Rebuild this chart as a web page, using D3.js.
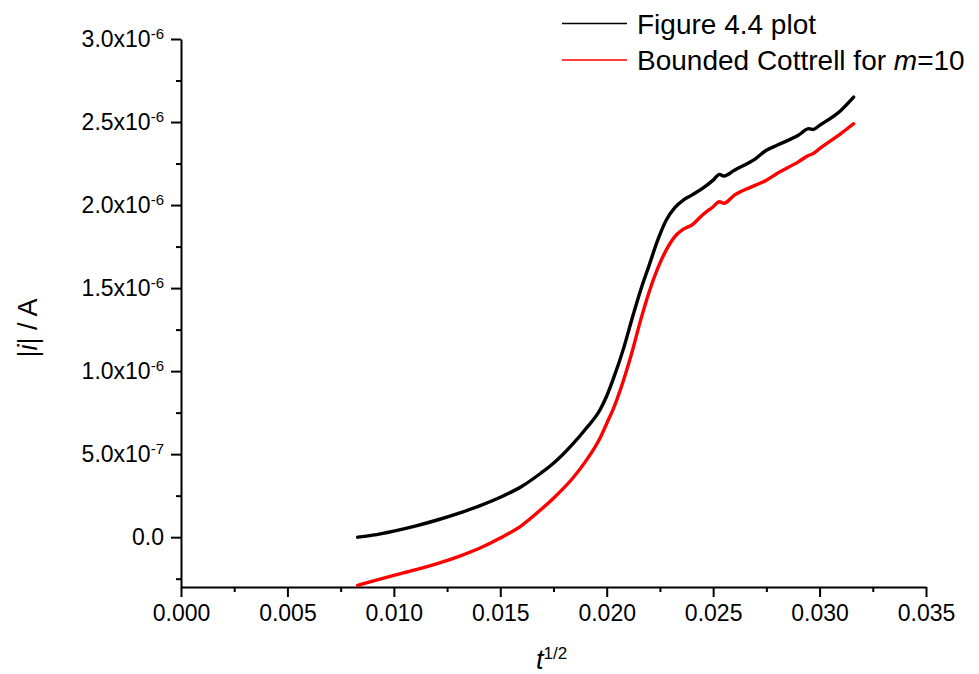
<!DOCTYPE html>
<html>
<head>
<meta charset="utf-8">
<script src="https://cdn.jsdelivr.net/npm/d3@7"></script>
<style>
  body { margin: 0; background: #fff; }
  svg { font-family: Arial, "Liberation Sans", sans-serif; }
  .axis path, .axis line { stroke: #000; stroke-width: 2px; }
  .axis text { fill: #000; font-size: 23px; }
</style>
</head>
<body>
<svg width="979" height="674"></svg>
<script>
// data (t^1/2 and |i| in 1e-6 A)
var tSqrt      = [0.0083, 0.0090, 0.0100, 0.0110, 0.0120, 0.0130, 0.0140, 0.0150, 0.0160, 0.0169, 0.0175, 0.0184, 0.0190, 0.0197, 0.0200, 0.0203, 0.0208, 0.0212, 0.0216, 0.0220, 0.0224, 0.0228, 0.0232, 0.0236, 0.0240, 0.0245, 0.0250, 0.0253, 0.0255, 0.0260, 0.0270, 0.0275, 0.0280, 0.0290, 0.0295, 0.0297, 0.0300, 0.0310, 0.0316];
var figure44   = [0.000, 0.012, 0.037, 0.067, 0.102, 0.142, 0.187, 0.240, 0.305, 0.385, 0.445, 0.560, 0.650, 0.770, 0.850, 0.950, 1.140, 1.320, 1.490, 1.640, 1.790, 1.910, 1.985, 2.030, 2.060, 2.100, 2.150, 2.185, 2.175, 2.210, 2.280, 2.330, 2.360, 2.420, 2.460, 2.455, 2.480, 2.570, 2.650];
var cottrell   = [-0.290, -0.265, -0.230, -0.197, -0.160, -0.118, -0.068, -0.005, 0.070, 0.165, 0.235, 0.355, 0.455, 0.600, 0.685, 0.770, 0.950, 1.120, 1.310, 1.480, 1.620, 1.730, 1.810, 1.855, 1.880, 1.940, 1.990, 2.020, 2.010, 2.060, 2.120, 2.150, 2.190, 2.260, 2.300, 2.310, 2.340, 2.430, 2.490];
var xTicks     = [0, 0.005, 0.010, 0.015, 0.020, 0.025, 0.030, 0.035];
var xMinor     = [0.0025, 0.0075, 0.0125, 0.0175, 0.0225, 0.0275, 0.0325];
var yTicks     = [0, 0.5e-6, 1.0e-6, 1.5e-6, 2.0e-6, 2.5e-6, 3.0e-6];
var yMinor     = [-0.25e-6, 0.25e-6, 0.75e-6, 1.25e-6, 1.75e-6, 2.25e-6, 2.75e-6];
var seriesNames = ["Figure 4.4 plot", "Bounded Cottrell for "];
var seriesColors = ["#000000", "#ff0000"];
// end of data

var svg = d3.select("svg"),
    plotLeft = 181, plotRight = 926, plotTop = 39, plotBottom = 587;

var x = d3.scaleLinear().domain([0, 0.035]).range([plotLeft, plotRight]);
var y = d3.scaleLinear().domain([-0.3e-6, 3.0e-6]).range([plotBottom, plotTop]);

function sciLabel(v) {
  if (v === 0) return ["0.0", null];
  var e = Math.floor(Math.log10(Math.abs(v)) + 1e-9);
  return [(v / Math.pow(10, e)).toFixed(1) + "x10", String(e)];
}

// x axis
svg.append("g").attr("class", "axis")
  .attr("transform", "translate(0," + plotBottom + ")")
  .call(d3.axisBottom(x).tickValues(xTicks).tickSize(10).tickSizeOuter(0).tickPadding(8)
    .tickFormat(d3.format(".3f")));
svg.append("g").attr("class", "axis")
  .attr("transform", "translate(0," + plotBottom + ")")
  .call(d3.axisBottom(x).tickValues(xMinor).tickSize(5).tickFormat(""))
  .select(".domain").remove();

// y axis
var gy = svg.append("g").attr("class", "axis")
  .attr("transform", "translate(" + plotLeft + ",0)")
  .call(d3.axisLeft(y).tickValues(yTicks).tickSize(10).tickSizeOuter(0).tickPadding(7)
    .tickFormat(""));
svg.append("g").attr("class", "axis")
  .attr("transform", "translate(" + plotLeft + ",0)")
  .call(d3.axisLeft(y).tickValues(yMinor).tickSize(5).tickFormat(""))
  .select(".domain").remove();

gy.selectAll(".tick text").each(function(d) {
  var parts = sciLabel(d), t = d3.select(this);
  t.append("tspan").text(parts[0]);
  if (parts[1]) {
    t.append("tspan").attr("dy", "-0.55em").style("font-size", "15px").text(parts[1]);
  }
});

// curves
var line = d3.line()
  .x(function(d) { return x(d[0]); })
  .y(function(d) { return y(d[1] * 1e-6); })
  .curve(d3.curveMonotoneX);

[figure44, cottrell].forEach(function(vals, k) {
  svg.append("path")
    .datum(tSqrt.map(function(t, i) { return [t, vals[i]]; }))
    .attr("fill", "none")
    .attr("stroke", seriesColors[k])
    .attr("stroke-width", 3.4)
    .attr("stroke-linejoin", "round")
    .attr("stroke-linecap", "round")
    .attr("d", line);
});

// legend
var legend = svg.append("g").style("font-size", "28px");
seriesNames.forEach(function(name, k) {
  var ly = 23.5 + k * 36.5;
  legend.append("line")
    .attr("x1", 562).attr("x2", 627).attr("y1", ly).attr("y2", ly)
    .attr("stroke", seriesColors[k]).attr("stroke-width", 1.5);
  var txt = legend.append("text").attr("x", 637).attr("y", ly + 10).text(name);
  if (k === 1) {
    txt.append("tspan").style("font-style", "italic").text("m");
    txt.append("tspan").text("=10");
  }
});

// axis titles
var yt = svg.append("text")
  .attr("transform", "translate(37,328) rotate(-90)")
  .attr("text-anchor", "middle")
  .style("font-size", "27px");
yt.append("tspan").text("|");
yt.append("tspan").style("font-style", "italic").text("i");
yt.append("tspan").text("| / A");

var xt = svg.append("text")
  .attr("x", 536).attr("y", 669)
  .style("font-size", "27px");
xt.append("tspan").style("font-style", "italic").text("t");
xt.append("tspan").attr("dy", "-0.6em").style("font-size", "17px").text("1/2");
</script>
</body>
</html>
